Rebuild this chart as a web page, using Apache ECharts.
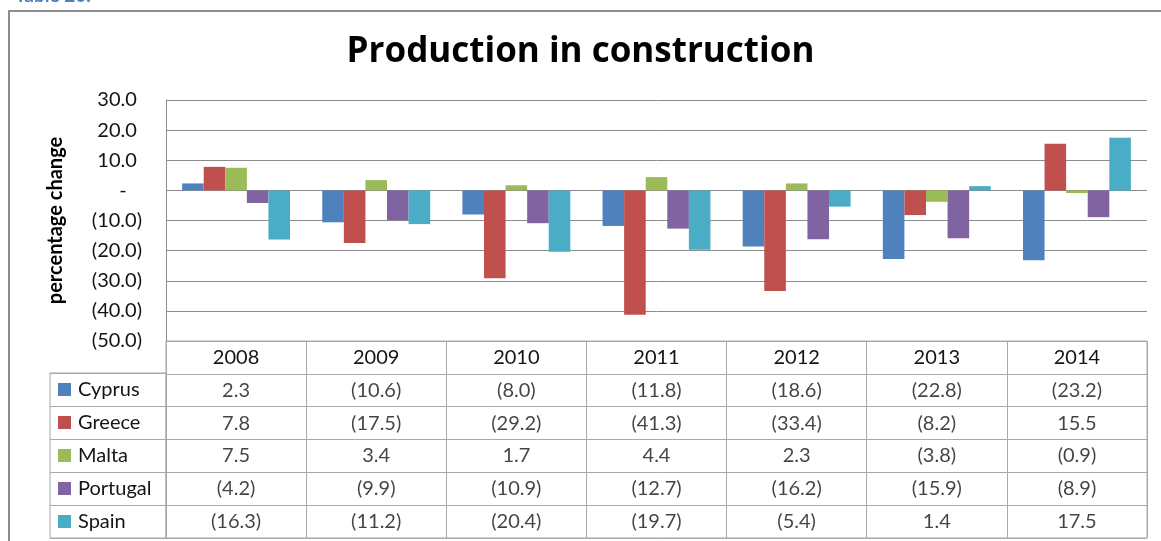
<!DOCTYPE html>
<html>
<head>
<meta charset="utf-8">
<script src="https://cdn.jsdelivr.net/npm/echarts@6/dist/echarts.min.js"></script>
<style>
html,body{margin:0;padding:0;background:#fff;}
#main{width:1161px;height:541px;}
</style>
</head>
<body>
<div id="main"></div>
<script>
// data
var years = ['2008', '2009', '2010', '2011', '2012', '2013', '2014'];
var countries = ['Cyprus', 'Greece', 'Malta', 'Portugal', 'Spain'];
var cyprus = [2.3, -10.6, -8.0, -11.8, -18.6, -22.8, -23.2];
var greece = [7.8, -17.5, -29.2, -41.3, -33.4, -8.2, 15.5];
var malta = [7.5, 3.4, 1.7, 4.4, 2.3, -3.8, -0.9];
var portugal = [-4.2, -9.9, -10.9, -12.7, -16.2, -15.9, -8.9];
var spain = [-16.3, -11.2, -20.4, -19.7, -5.4, 1.4, 17.5];
var colors = ['#4f81bd', '#c0504d', '#9bbb59', '#8064a2', '#4bacc6'];

var values = [cyprus, greece, malta, portugal, spain];
var FONT = 'Lato';
var txtColor = '#141414';
var tableLine = '#a9a9a9';

function fmt(v){
	if(v < 0) return '(' + Math.abs(v).toFixed(1) + ')';
	if(v === 0) return '-   ';
	return v.toFixed(1) + ' ';
}

// bar series
var barSeries = countries.map(function(name, i){
	return {
		name: name,
		type: 'bar',
		xAxisIndex: 0,
		yAxisIndex: 0,
		data: values[i],
		barGap: '0%',
		barCategoryGap: '23%',
		itemStyle: {color: colors[i]},
		silent: true
	};
});

// table cells
var cells = [];
countries.forEach(function(name, i){
	years.forEach(function(y, j){
		cells.push([y, name, values[i][j]]);
	});
});

var rich = {t: {fontFamily: FONT, fontSize: 20, color: txtColor, padding: [0, 0, 0, 7]}};
colors.forEach(function(c, i){
	rich['c' + i] = {width: 13, height: 13, backgroundColor: c};
});

var chart = echarts.init(document.getElementById('main'));
var option = {
	animation: false,
	title: [{
		text: 'Production in construction',
		left: 'center',
		top: 30,
		textStyle: {fontFamily: 'Open Sans', fontSize: 35, fontWeight: 'bold', color: '#000'}
	},{
		text: 'Table 20.',
		left: 10,
		top: -19,
		textStyle: {fontFamily: FONT, fontSize: 19, fontWeight: 'bold', color: '#4f81bd'}
	}],
	graphic: [{
		type: 'rect',
		shape: {x: 9, y: 11, width: 1200, height: 600},
		style: {fill: null, stroke: '#8c8c8c', lineWidth: 2},
		silent: true
	}],
	grid: [
		{left: 166, right: 14, top: 100, height: 241},
		{left: 166, right: 14, top: 341, bottom: 3, show: true, borderColor: tableLine, borderWidth: 1},
		{left: 50, width: 116, top: 373, bottom: 3, show: true, borderColor: tableLine, borderWidth: 1}
	],
	xAxis: [{
		gridIndex: 0,
		type: 'category',
		data: years,
		axisLine: {show: false},
		axisTick: {show: false},
		axisLabel: {show: false}
	},{
		gridIndex: 1,
		type: 'category',
		data: years,
		position: 'top',
		axisLine: {show: false},
		axisTick: {show: false},
		axisLabel: {inside: true, margin: 7, fontFamily: FONT, fontSize: 20, color: txtColor},
		splitLine: {show: true, lineStyle: {color: tableLine, width: 1}}
	},{
		gridIndex: 2,
		type: 'value',
		show: false
	}],
	yAxis: [{
		gridIndex: 0,
		type: 'value',
		min: -50,
		max: 30,
		interval: 10,
		name: 'percentage change',
		nameLocation: 'middle',
		nameGap: 100,
		nameTextStyle: {fontFamily: FONT, fontSize: 20, fontWeight: 'bold', color: '#000'},
		axisLine: {show: true, lineStyle: {color: '#8c8c8c', width: 1}},
		axisTick: {show: false},
		axisLabel: {margin: 24, fontFamily: FONT, fontSize: 20, color: txtColor, formatter: fmt},
		splitLine: {show: true, lineStyle: {color: '#8c8c8c', width: 1}}
	},{
		gridIndex: 1,
		type: 'category',
		data: [''].concat(countries),
		inverse: true,
		axisLine: {show: false},
		axisTick: {show: false},
		axisLabel: {show: false},
		splitLine: {show: true, lineStyle: {color: tableLine, width: 1}}
	},{
		gridIndex: 2,
		type: 'category',
		data: countries,
		inverse: true,
		axisLine: {show: false},
		axisTick: {show: false},
		axisLabel: {
			inside: true,
			margin: 8,
			align: 'left',
			formatter: function(v, i){ return '{c' + i + '|}{t|' + v + '}'; },
			rich: rich
		},
		splitLine: {show: true, lineStyle: {color: tableLine, width: 1}}
	}],
	series: barSeries.concat([{
		type: 'scatter',
		xAxisIndex: 1,
		yAxisIndex: 1,
		data: cells,
		symbolSize: 1,
		itemStyle: {color: 'rgba(0,0,0,0)'},
		silent: true,
		label: {
			show: true,
			position: 'inside',
			fontFamily: FONT,
			fontSize: 20,
			color: txtColor,
			formatter: function(p){ return fmt(p.value[2]).trim(); }
		}
	}])
};
chart.setOption(option);
</script>
</body>
</html>
